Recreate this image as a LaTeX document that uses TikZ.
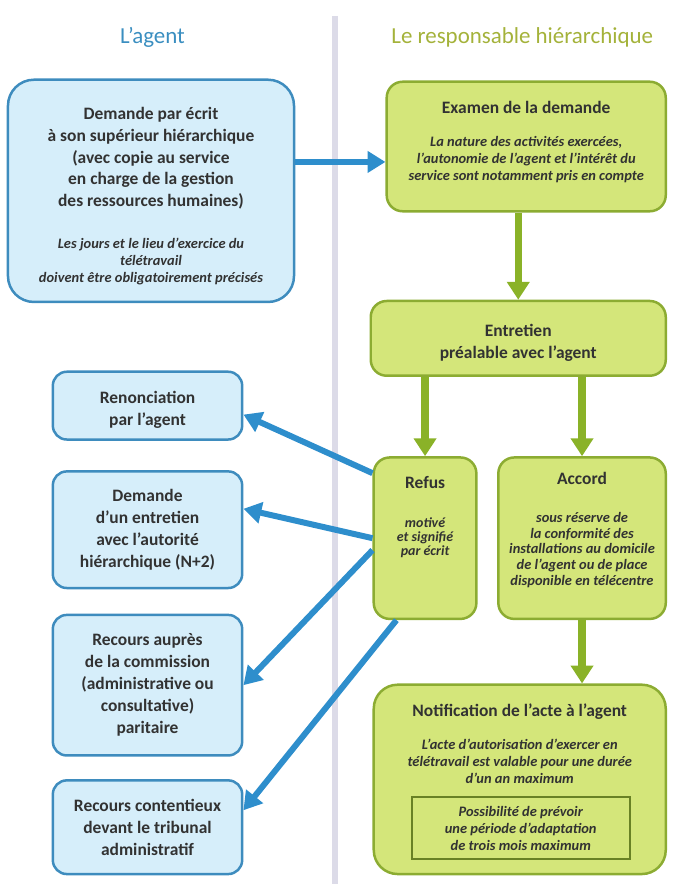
\documentclass[tikz,border=0pt]{standalone}
\usepackage{fontspec}
\setmainfont{Carlito}
\usetikzlibrary{arrows.meta,positioning,calc}
\definecolor{agentcol}{RGB}{214,238,250}
\definecolor{agentline}{RGB}{62,140,190}
\definecolor{respcol}{RGB}{212,230,122}
\definecolor{respline}{RGB}{140,172,50}
\definecolor{bluearrow}{RGB}{46,142,204}
\definecolor{greenarrow}{RGB}{138,178,40}
\definecolor{agenthead}{RGB}{58,142,192}
\definecolor{resphead}{RGB}{164,178,58}
\definecolor{txtcol}{RGB}{50,50,50}
\definecolor{sepcol}{RGB}{220,219,232}
\newcommand{\subtxt}{\fontsize{14.5}{17}\selectfont\bfseries\itshape}
\newcommand{\smalltxt}{\fontsize{14}{13}\selectfont\bfseries\itshape}
\newcommand{\gap}[1]{\rule{0pt}{#1}}
\newcommand{\subblock}[1]{{\subtxt\begin{tabular}[t]{@{}c@{}}#1\end{tabular}}}

\begin{document}
\begin{tikzpicture}[
  x=1pt, y=-1pt,
  box/.style={draw, line width=2.5pt, align=center, text=txtcol, inner sep=3pt,
              font=\fontsize{17.5}{22}\selectfont\bfseries},
  ag/.style={box, fill=agentcol, draw=agentline, rounded corners=14pt},
  rs/.style={box, fill=respcol, draw=respline, rounded corners=16pt},
  head/.style={font=\fontsize{23}{26}\selectfont},
  barrow/.style={line width=6pt, bluearrow, -{Triangle[length=18pt,width=21pt]}},
  garrow/.style={line width=7.5pt, greenarrow, -{Triangle[length=18pt,width=22pt]}}
]
% columns
\draw[sepcol, line width=6pt] (336,16) -- (336,887);
\node[head, text=agenthead] (tagent) at (153,38) {L’agent};
\node[head, text=resphead] (tresp) at (524,38) {Le responsable hiérarchique};

% agent side
\node[ag, minimum width=190pt, minimum height=68pt] (renon) at (148,407) {\gap{20pt}Renonciation\\ par l’agent};
\node[ag, minimum width=190pt, minimum height=117pt, below=29.5pt of renon] (entr2)
  {Demande\\ d’un entretien\\ avec l’autorité\\ hiérarchique (N+2)};
\node[ag, minimum width=190pt, minimum height=141pt, below=24.5pt of entr2] (cap)
  {Recours auprès\\ de la commission\\ (administrative ou\\ consultative)\\ paritaire};
\node[ag, minimum width=190pt, minimum height=94pt, below=22.5pt of cap] (trib)
  {Recours contentieux\\ devant le tribunal\\ administratif};

\node[ag, rounded corners=26pt, minimum width=287pt, minimum height=223pt] (dem) at (151.5,191.5)
  {\gap{25pt}Demande par écrit\\ à son supérieur hiérarchique\\ (avec copie au service\\ en charge de la gestion\\ des ressources humaines)\\
   \subblock{\gap{38pt}Les jours et le lieu d’exercice du\\ télétravail\\ doivent être obligatoirement précisés}};

% responsable side
\node[rs, minimum width=296pt, minimum height=75pt] (prea) at (520,339.5)
  {\gap{21pt}Entretien\\ préalable avec l’agent};
\node[rs, minimum width=280pt, minimum height=130pt] (exam) at (528,147)
  {Examen de la demande\\
   \subblock{\gap{32pt}La nature des activités exercées,\\ l’autonomie de l’agent et l’intérêt du\\ service sont notamment pris en compte}\\ \gap{5pt}};
\node[rs, minimum width=103pt, minimum height=162pt] (refus) at (426.5,540)
  {Refus\\ {\smalltxt\begin{tabular}[t]{@{}c@{}}\gap{38pt}motivé\\ et signifié\\ par écrit\end{tabular}}\\ \gap{40pt}};
\node[rs, minimum width=168pt, minimum height=162pt] (accord) at (584,540)
  {Accord\\ {\renewcommand{\arraystretch}{0.92}\subblock{\gap{37pt}sous réserve de\\ la conformité des\\ installations au domicile\\ de l’agent ou de place\\ disponible en télécentre}}\\ \gap{13pt}};
\node[rs, rounded corners=24pt, minimum width=293pt, minimum height=190pt] (notif) at (521.5,782)
  {Notification de l’acte à l’agent\\
   \subblock{\gap{29pt}L’acte d’autorisation d’exercer en\\ télétravail est valable pour une durée\\ d’un an maximum}\\ \gap{66pt}};
\node[draw=respline!75!black, line width=2pt, text=txtcol, align=center, font=\subtxt,
      minimum width=219pt, minimum height=62pt] (adapt) at (522.5,831)
  {Possibilité de prévoir\\ une période d’adaptation\\ de trois mois maximum};

% arrows
\draw[barrow] ([yshift=29pt]dem.east) -- ([yshift=29pt]dem.east -| exam.west);
\draw[garrow] (prea.north |- exam.south) -- (prea.north);
\draw[garrow] (refus.north |- prea.south) -- (refus.north);
\draw[garrow] (accord.north |- prea.south) -- (accord.north);
\draw[garrow] (accord.south) -- (accord.south |- notif.north);

\draw[barrow] ([yshift=-17pt]refus.north west) -- ([yshift=-9pt]renon.east);
\draw[barrow] (refus.west) -- ([yshift=21pt]entr2.east);
\draw[barrow] ([yshift=-12pt]refus.west) -- (cap.east);
\draw[barrow] ([xshift=24pt]refus.south west) -- ([yshift=17pt]trib.east);

\useasboundingbox (0,0) rectangle (681,887);
\end{tikzpicture}
\end{document}
